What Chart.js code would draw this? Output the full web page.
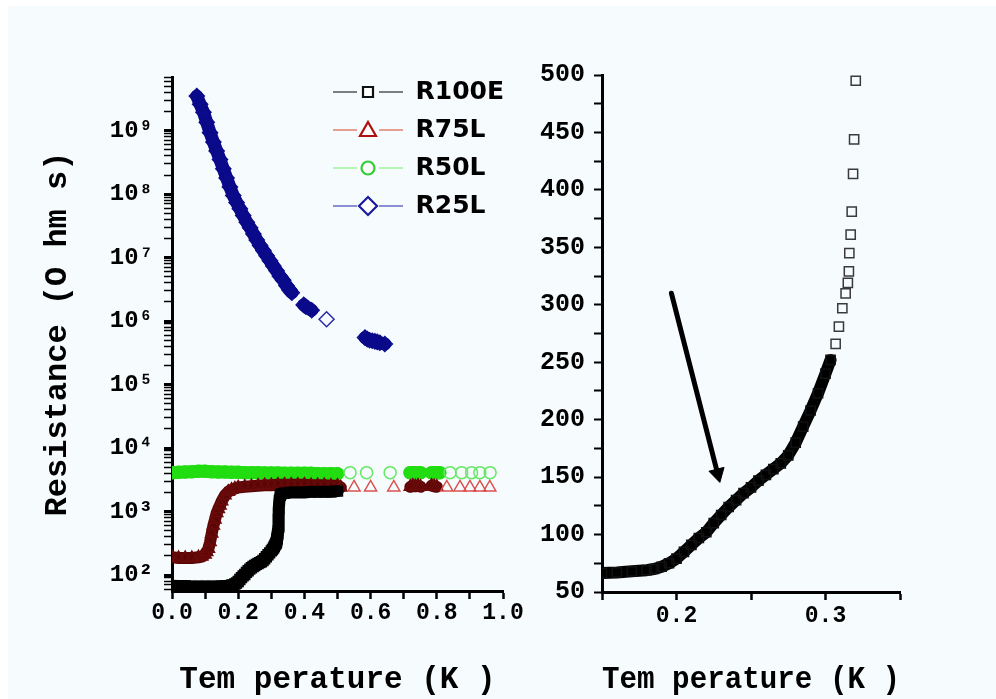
<!DOCTYPE html>
<html><head><meta charset="utf-8">
<script src="https://cdn.jsdelivr.net/npm/chart.js@4.4.1/dist/chart.umd.min.js"></script>
<style>
html,body{margin:0;padding:0;background:#fff;width:996px;height:699px;overflow:hidden;}
#bg{position:absolute;left:8px;top:6px;width:988px;height:693px;background:#f6fcfd;}
#w1{position:absolute;left:0;top:0;width:545px;height:699px;}
#w2{position:absolute;left:520px;top:0;width:476px;height:699px;}
</style></head><body>
<div id="bg"></div>
<div id="w2"><canvas id="c2"></canvas></div>
<div id="w1"><canvas id="c1"></canvas></div>
<script>
// ---------------- DATA ----------------
const SERIES_NAMES = ['R100E', 'R75L', 'R50L', 'R25L'];

const R100E_T = [0.00,0.02,0.04,0.06,0.08,0.10,0.12,0.14,0.15,0.16,0.17,0.18,0.185,0.19,0.195,0.20,0.205,0.21,0.215,0.22,0.225,0.23,0.235,0.24,0.245,0.25,0.255,0.26,0.265,0.27,0.275,0.28,0.285,0.29,0.295,0.30,0.3034,0.3068,0.309,0.3113,0.3135,0.315,0.3157,0.3160,0.3169,0.3176,0.3185,0.3192,0.3203,0.3215,0.323,0.3245,0.327,0.33,0.34,0.36,0.38,0.40,0.42,0.44,0.46,0.48,0.50];
const R100E_R = [68,67,67,66,66,66,66,66,66.5,67,68,69,70,72,75,79,85,91,97,102,110,117,124,130,136,141,147,152,157,162,169,180,194,208,223,240,252,266,281,297,310,319,329,345,361,381,414,444,495,750,1100,1500,1800,1900,1950,2000,2000,2000,2050,2050,2050,2050,2100];

const R75L_T = [0.00,0.02,0.04,0.06,0.08,0.09,0.10,0.105,0.11,0.115,0.12,0.125,0.13,0.135,0.14,0.145,0.15,0.16,0.17,0.18,0.19,0.20,0.22,0.24,0.26,0.28,0.30,0.32,0.34,0.36,0.38,0.40,0.42,0.44,0.46,0.48,0.50,0.51,0.55,0.60,0.67,0.72,0.727,0.735,0.743,0.751,0.784,0.792,0.80,0.83,0.87,0.90,0.93,0.96];
const R75L_R = [190,185,185,185,190,195,210,230,260,330,450,600,750,950,1100,1250,1450,1800,2050,2200,2300,2400,2450,2500,2550,2600,2600,2650,2650,2650,2650,2650,2600,2600,2600,2550,2550,2400,2400,2400,2400,2450,2550,2500,2550,2450,2550,2500,2450,2400,2400,2400,2400,2400];

const R50L_T = [0.00,0.02,0.04,0.06,0.08,0.10,0.12,0.14,0.16,0.18,0.20,0.22,0.24,0.26,0.28,0.30,0.32,0.34,0.36,0.38,0.40,0.42,0.44,0.46,0.48,0.50,0.538,0.588,0.659,0.719,0.727,0.735,0.743,0.751,0.784,0.792,0.800,0.809,0.840,0.875,0.905,0.930,0.961];
const R50L_R = [4100,4150,4200,4250,4300,4300,4250,4200,4200,4150,4150,4100,4100,4100,4050,4050,4050,4000,4000,4000,4000,4000,3950,3950,3950,3950,4100,4100,4100,4100,4100,4100,4100,4100,4100,4100,4100,4100,4100,4100,4100,4100,4100];

const R25L_T = [0.075,0.085,0.095,0.105,0.115,0.125,0.135,0.145,0.155,0.165,0.175,0.185,0.195,0.205,0.215,0.226,0.236,0.246,0.256,0.266,0.276,0.286,0.296,0.306,0.316,0.326,0.336,0.346,0.355,0.362,0.398,0.404,0.422,0.467,0.583,0.59,0.597,0.605,0.613,0.62,0.628,0.643];
const R25L_R = [3.5e9,2.6e9,1.95e9,1.35e9,9.3e8,6.6e8,4.8e8,3.5e8,2.5e8,1.8e8,1.3e8,9.5e7,7.4e7,5.9e7,4.6e7,3.6e7,2.95e7,2.35e7,1.9e7,1.55e7,1.29e7,1.07e7,8.9e6,7.4e6,6.2e6,5.1e6,4.4e6,3.6e6,3.1e6,2.8e6,1.8e6,1.7e6,1.48e6,1.07e6,5.5e5,5.2e5,5.0e5,4.9e5,4.8e5,4.7e5,4.55e5,4.35e5];

// arrow annotation (data units of right panel)
const ARROW_T = [0.1966, 0.2276];
const ARROW_R = [310, 153];

// tick labels
const LEFT_X_LABELS = ['0.0','0.2','0.4','0.6','0.8','1.0'];
const LEFT_Y_LABELS = ['10⁰','10¹','10²','10³','10⁴','10⁵','10⁶','10⁷','10⁸','10⁹'];
const RIGHT_X_LABELS = {'0.20':'0.2','0.30':'0.3'};

const X_TITLE = 'Tem perature (K )';
const Y_TITLE = 'Resistance (O hm s)';

// --------------- helpers ---------------
const pts = (T, R) => T.map((t, i) => ({x: t, y: R[i]}));
const TRANSP = 'rgba(0,0,0,0)';
const MONO = 'Liberation Mono';
const GAP = 0.021;

function legendImg(kind, lineColor, markColor) {
  const c = document.createElement('canvas');
  c.width = 70; c.height = 22;
  const g = c.getContext('2d');
  g.strokeStyle = lineColor; g.lineWidth = 1.5;
  g.beginPath(); g.moveTo(0, 11); g.lineTo(24, 11); g.moveTo(46, 11); g.lineTo(70, 11); g.stroke();
  g.strokeStyle = markColor; g.lineWidth = 2.2; g.fillStyle = '#fff';
  g.beginPath();
  if (kind === 'rect') { g.rect(30, 6, 10, 10); }
  else if (kind === 'tri') { g.moveTo(35, 3); g.lineTo(43, 17); g.lineTo(27, 17); g.closePath(); }
  else if (kind === 'circ') { g.arc(35, 11, 6.5, 0, Math.PI * 2); }
  else { g.moveTo(35, 2); g.lineTo(44, 11); g.lineTo(35, 20); g.lineTo(26, 11); g.closePath(); }
  g.fill(); g.stroke();
  return c;
}
const LEG_IMGS = [
  legendImg('rect', '#555', '#111'),
  legendImg('tri', '#e08070', '#b01010'),
  legendImg('circ', '#a0f0a0', '#33cc33'),
  legendImg('dia', '#6a6ac8', '#1a1aa0')
];

const bandSeg = (color) => ({
  borderColor: c => (c.p1.parsed.x - c.p0.parsed.x) <= GAP ? color : TRANSP
});
// marker colour: dark when the point sits inside a dense run, light when isolated
const denseColor = (T, dark, light) => c => {
  const i = c.dataIndex;
  const near = (i > 0 && T[i] - T[i - 1] <= GAP) || (i < T.length - 1 && T[i + 1] - T[i] <= GAP);
  return near ? dark : light;
};

// --------------- LEFT CHART ---------------
const leftTicks = [];
for (let e = 1; e <= 9; e++) for (let k = 1; k <= 9; k++) {
  const v = k * Math.pow(10, e);
  if (v >= 56 && v <= 7e9) leftTicks.push({value: v, major: k === 1});
}

const legendMover = {
  id: 'legendMover',
  afterLayout(chart) {
    if (chart.legend) { chart.legend.left = 320; chart.legend.top = 66.5; }
  }
};

new Chart(document.getElementById('c1'), {
  type: 'line',
  data: {
    datasets: [
      {label: SERIES_NAMES[0], data: pts(R100E_T, R100E_R), borderColor: '#000', borderWidth: 12, segment: bandSeg('#000'),
       pointStyle: 'rect', pointRadius: 7, pointBorderColor: denseColor(R100E_T, '#000', '#222'), pointBackgroundColor: TRANSP, pointBorderWidth: 1.5},
      {label: SERIES_NAMES[1], data: pts(R75L_T, R75L_R), borderColor: '#5a0606', borderWidth: 12, segment: bandSeg('#5a0606'),
       pointStyle: 'triangle', pointRadius: 7, pointBorderColor: denseColor(R75L_T, '#6a0a0a', '#dc5050'), pointBackgroundColor: TRANSP, pointBorderWidth: 1.5},
      {label: SERIES_NAMES[2], data: pts(R50L_T, R50L_R), borderColor: '#22dd11', borderWidth: 13, segment: bandSeg('#22dd11'),
       pointStyle: 'circle', pointRadius: 6, pointBorderColor: denseColor(R50L_T, '#22dd11', '#66e866'), pointBackgroundColor: TRANSP, pointBorderWidth: 1.5},
      {label: SERIES_NAMES[3], data: pts(R25L_T, R25L_R), borderColor: '#0a0a8a', borderWidth: 13, segment: bandSeg('#0a0a8a'),
       pointStyle: 'rectRot', pointRadius: 7.5, pointBorderColor: denseColor(R25L_T, '#0a0a8a', '#2a2aa8'), pointBackgroundColor: TRANSP, pointBorderWidth: 1.5}
    ]
  },
  options: {
    responsive: true, maintainAspectRatio: false, animation: false, events: [],
    clip: 0,
    layout: {padding: {left: 0, top: 77, right: 42, bottom: 0}},
    elements: {line: {tension: 0, borderCapStyle: 'round', borderJoinStyle: 'round'}},
    plugins: {
      tooltip: {enabled: false},
      legend: {
        position: 'chartArea', align: 'start',
        labels: {
          usePointStyle: true, pointStyleWidth: 70, padding: 13, color: '#000',
          font: {family: 'DejaVu Sans', weight: 'bold', size: 25},
          generateLabels: chart => chart.data.datasets.map((ds, i) => ({
            text: ds.label, pointStyle: LEG_IMGS[i], rotation: 0, fillStyle: TRANSP, strokeStyle: TRANSP,
            lineWidth: 0, hidden: false, datasetIndex: i, fontColor: '#000'
          }))
        }
      }
    },
    scales: {
      x: {
        type: 'linear', min: 0, max: 1, position: 'bottom',
        afterFit: s => { s.height = 108; },
        border: {color: '#000', width: 3},
        grid: {drawOnChartArea: false, drawTicks: true, tickLength: 8, tickColor: '#000', tickWidth: 2.5},
        ticks: {
          stepSize: 0.1, autoSkip: false, maxRotation: 0, padding: 0, color: '#000',
          font: {family: MONO, weight: 'bold', size: 23},
          callback: v => { const i = Math.round(v * 10); return i % 2 === 0 ? LEFT_X_LABELS[i / 2] : ''; }
        },
        title: {display: true, text: X_TITLE, color: '#000', font: {family: MONO, weight: 'bold', size: 31}, padding: {top: 0, bottom: 0}}
      },
      y: {
        type: 'logarithmic', min: 56, max: 7e9, position: 'left',
        afterFit: s => { s.width = 172; },
        afterBuildTicks: s => { s.ticks = leftTicks.map(t => ({value: t.value, major: t.major})); },
        border: {color: '#000', width: 3},
        grid: {drawOnChartArea: false, drawTicks: true, tickLength: 8, tickColor: '#000',
               tickWidth: c => (c.tick && c.tick.major) ? 3 : 1.5},
        ticks: {
          autoSkip: false, padding: 11, color: '#000',
          font: {family: MONO, weight: 'bold', size: 24},
          callback: v => { const e = Math.log10(v); return Math.abs(e - Math.round(e)) < 1e-9 ? LEFT_Y_LABELS[Math.round(e)] : ''; }
        },
        title: {display: true, text: Y_TITLE, color: '#000', font: {family: MONO, weight: 'bold', size: 32}, padding: {top: 39, bottom: 0}}
      }
    }
  },
  plugins: [legendMover]
});

// --------------- RIGHT CHART ---------------
const arrowAngle = c => {
  const xs = c.chart.scales.x, ys = c.chart.scales.y;
  const dx = xs.getPixelForValue(ARROW_T[1]) - xs.getPixelForValue(ARROW_T[0]);
  const dy = ys.getPixelForValue(ARROW_R[1]) - ys.getPixelForValue(ARROW_R[0]);
  return Math.atan2(dx, -dy) * 180 / Math.PI;
};

new Chart(document.getElementById('c2'), {
  type: 'line',
  data: {
    datasets: [
      {label: SERIES_NAMES[0], data: pts(R100E_T, R100E_R), borderColor: '#000', borderWidth: 12,
       segment: {borderColor: c => (c.p0.parsed.y < 258 && c.p1.parsed.y < 258) ? '#000' : TRANSP},
       pointStyle: 'rect', pointRadius: 6.5,
       pointBorderColor: c => (R100E_R[c.dataIndex] < 258 ? '#111' : '#3a3a3a'),
       pointBackgroundColor: TRANSP, pointBorderWidth: 1.5},
      {label: 'arrow', data: pts(ARROW_T, ARROW_R), borderColor: '#000', borderWidth: 5,
       pointStyle: 'triangle', pointRadius: c => c.dataIndex === 1 ? 9 : 0, pointBackgroundColor: '#000',
       pointBorderColor: '#000', pointBorderWidth: 1, pointRotation: arrowAngle}
    ]
  },
  options: {
    responsive: true, maintainAspectRatio: false, animation: false, events: [],
    clip: 0,
    layout: {padding: {left: 0, top: 75, right: 96, bottom: 0}},
    elements: {line: {tension: 0, borderCapStyle: 'round', borderJoinStyle: 'round'}},
    plugins: {tooltip: {enabled: false}, legend: {display: false}},
    scales: {
      x: {
        type: 'linear', min: 0.15, max: 0.35, position: 'bottom',
        afterFit: s => { s.height = 107; },
        border: {color: '#000', width: 3},
        grid: {drawOnChartArea: false, drawTicks: true, tickLength: 8, tickColor: '#000', tickWidth: 2.5},
        ticks: {
          stepSize: 0.05, autoSkip: false, maxRotation: 0, padding: 2, color: '#000',
          font: {family: MONO, weight: 'bold', size: 23},
          callback: v => RIGHT_X_LABELS[v.toFixed(2)] || ''
        },
        title: {display: true, text: X_TITLE, color: '#000', font: {family: MONO, weight: 'bold', size: 31}, padding: {top: 0, bottom: 0}}
      },
      y: {
        type: 'linear', min: 50, max: 500, position: 'left',
        afterFit: s => { s.width = 82; },
        border: {color: '#000', width: 3},
        grid: {drawOnChartArea: false, drawTicks: true, tickLength: 8, tickColor: '#000', tickWidth: 2},
        ticks: {
          stepSize: 25, autoSkip: false, padding: 9, color: '#000',
          font: {family: MONO, weight: 'bold', size: 25},
          callback: v => (v % 50 === 0 ? String(v) : '')
        }
      }
    }
  }
});
</script></body></html>
